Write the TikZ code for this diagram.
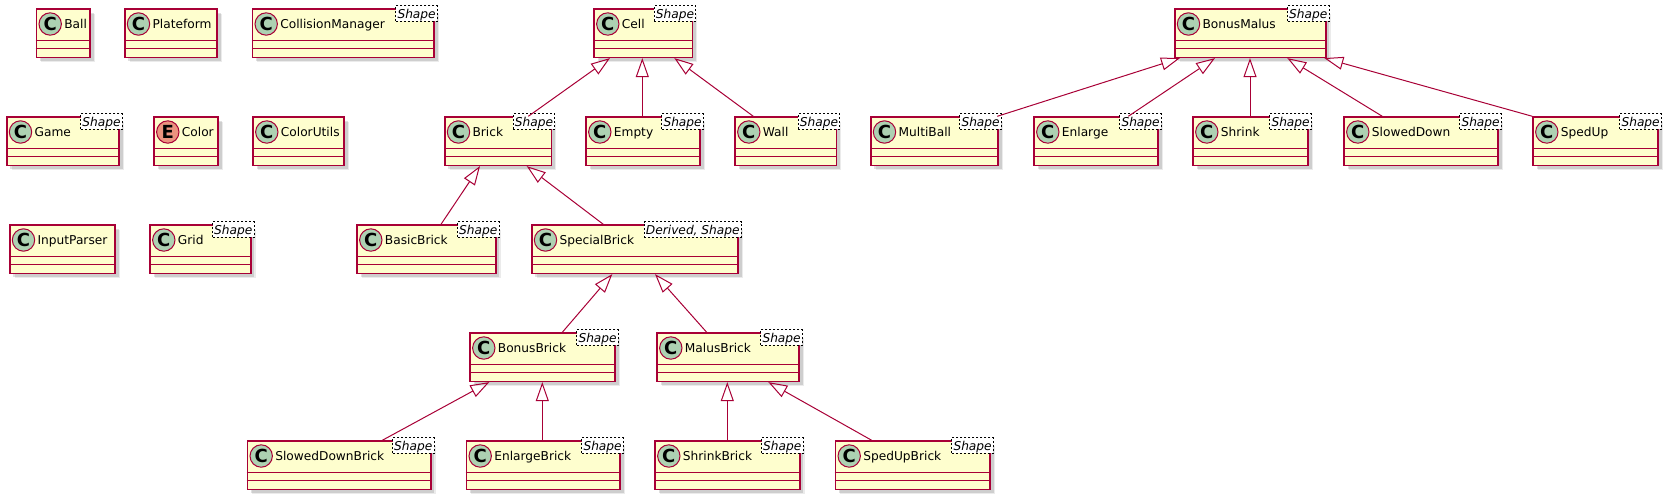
\documentclass[tikz,border=0pt]{standalone}
\usepackage{fontspec}
\setmainfont{DejaVu Sans}
\usetikzlibrary{arrows.meta,shadows}
\definecolor{umlborder}{HTML}{A80036}
\definecolor{umlfill}{HTML}{FEFECE}
\definecolor{spotc}{HTML}{ADD1B2}
\definecolor{spote}{HTML}{EB937F}
\tikzset{
  classbox/.style={rectangle, draw=umlborder, fill=umlfill, line width=1.5pt,
    minimum height=48.3pt, inner sep=0pt,
    drop shadow={shadow xshift=5pt, shadow yshift=-5pt, fill=black, opacity=.08},
    drop shadow={shadow xshift=3.5pt, shadow yshift=-3.5pt, fill=black, opacity=.12}},
  sepline/.style={draw=umlborder, line width=1.5pt},
  spot/.style={circle, draw=umlborder, line width=1pt, minimum size=22.4pt, inner sep=0pt,
    font=\fontsize{18}{18}\selectfont\bfseries},
  clname/.style={anchor=base west, inner sep=0pt, font=\fontsize{12.2}{14}\selectfont},
  stereotag/.style={draw=black, fill=white, line width=0.8pt, dash pattern=on 2pt off 2pt,
    inner xsep=1.7pt, inner ysep=1pt, text height=11.4pt, text depth=2pt,
    font=\fontsize{12.2}{14}\selectfont\itshape, anchor=north east},
  extl/.style={draw=umlborder, line width=1pt, -{Triangle[open, length=19pt, width=13pt]}}
}
\newcommand\umlclass[7]{%
  \pgfmathsetmacro\clw{#4-#2}%
  \node[classbox, minimum width=\clw pt, anchor=north west] (#1) at (#2,#3) {};
  \draw[sepline] ([yshift=-32.3pt]#1.north west) -- ([yshift=-32.3pt]#1.north east);
  \draw[sepline] ([yshift=-40.3pt]#1.north west) -- ([yshift=-40.3pt]#1.north east);
  \node[spot, fill=#7] (#1-spot) at ([xshift=14.5pt,yshift=-15.7pt]#1.north west) {#6};
  \node[clname] (#1-name) at ([xshift=28.4pt,yshift=-20.3pt]#1.north west) {#5};
}
\newcommand\stereo[2]{%
  \node[stereotag] (#1-st) at ([xshift=3pt,yshift=3pt]#1.north east) {#2};
}
\newcommand\ext[4]{%
  \draw[extl] (#2.north -| #4,0) -- (#1.south -| #3,0);
}
\begin{document}
\begin{tikzpicture}[x=1pt,y=-1pt]
\useasboundingbox (0,0) rectangle (1670,498);
% row 1
\umlclass{Ball}{35.7}{8.3}{89.3}{Ball}{C}{spotc}
\umlclass{Plateform}{124}{8.3}{216.3}{Plateform}{C}{spotc}
\umlclass{CollisionManager}{251.7}{8.3}{433.3}{CollisionManager}{C}{spotc}
\stereo{CollisionManager}{Shape}
\umlclass{Cell}{593.3}{8.3}{691.7}{Cell}{C}{spotc}
\stereo{Cell}{Shape}
\umlclass{BonusMalus}{1174}{8.3}{1325}{BonusMalus}{C}{spotc}
\stereo{BonusMalus}{Shape}
% row 2
\umlclass{Game}{6}{116.3}{118.3}{Game}{C}{spotc}
\stereo{Game}{Shape}
\umlclass{Color}{153.3}{116.3}{217.3}{Color}{E}{spote}
\umlclass{ColorUtils}{252.3}{116.3}{343.3}{ColorUtils}{C}{spotc}
\umlclass{Brick}{444}{116.3}{550.7}{Brick}{C}{spotc}
\stereo{Brick}{Shape}
\umlclass{Empty}{585.3}{116.3}{699.3}{Empty}{C}{spotc}
\stereo{Empty}{Shape}
\umlclass{Wall}{734.3}{116.3}{835.7}{Wall}{C}{spotc}
\stereo{Wall}{Shape}
\umlclass{MultiBall}{870}{116.3}{997.3}{MultiBall}{C}{spotc}
\stereo{MultiBall}{Shape}
\umlclass{Enlarge}{1033.3}{116.3}{1157.3}{Enlarge}{C}{spotc}
\stereo{Enlarge}{Shape}
\umlclass{Shrink}{1192.3}{116.3}{1307.3}{Shrink}{C}{spotc}
\stereo{Shrink}{Shape}
\umlclass{SlowedDown}{1343.3}{116.3}{1497.3}{SlowedDown}{C}{spotc}
\stereo{SlowedDown}{Shape}
\umlclass{SpedUp}{1532.3}{116.3}{1657.3}{SpedUp}{C}{spotc}
\stereo{SpedUp}{Shape}
% row 3
\umlclass{InputParser}{9}{224.3}{114.3}{InputParser}{C}{spotc}
\umlclass{Grid}{149.3}{224.3}{250}{Grid}{C}{spotc}
\stereo{Grid}{Shape}
\umlclass{BasicBrick}{356.3}{224.3}{495}{BasicBrick}{C}{spotc}
\stereo{BasicBrick}{Shape}
\umlclass{SpecialBrick}{531}{224.3}{737.3}{SpecialBrick}{C}{spotc}
\stereo{SpecialBrick}{Derived, Shape}
% row 4
\umlclass{BonusBrick}{469.3}{332.3}{614.3}{BonusBrick}{C}{spotc}
\stereo{BonusBrick}{Shape}
\umlclass{MalusBrick}{656.3}{332.3}{798.3}{MalusBrick}{C}{spotc}
\stereo{MalusBrick}{Shape}
% row 5
\umlclass{SlowedDownBrick}{246.7}{440.3}{430}{SlowedDownBrick}{C}{spotc}
\stereo{SlowedDownBrick}{Shape}
\umlclass{EnlargeBrick}{465.7}{440.3}{619.3}{EnlargeBrick}{C}{spotc}
\stereo{EnlargeBrick}{Shape}
\umlclass{ShrinkBrick}{654.3}{440.3}{799}{ShrinkBrick}{C}{spotc}
\stereo{ShrinkBrick}{Shape}
\umlclass{SpedUpBrick}{834.7}{440.3}{989.3}{SpedUpBrick}{C}{spotc}
\stereo{SpedUpBrick}{Shape}
% generalisations
\ext{Cell}{Brick}{610}{528.3}
\ext{Cell}{Empty}{642.3}{642.3}
\ext{Cell}{Wall}{674.3}{753.3}
\ext{Brick}{BasicBrick}{480}{441}
\ext{Brick}{SpecialBrick}{526.7}{603.3}
\ext{SpecialBrick}{BonusBrick}{612.3}{562.3}
\ext{SpecialBrick}{MalusBrick}{655}{706.7}
\ext{BonusBrick}{SlowedDownBrick}{489.3}{382.3}
\ext{BonusBrick}{EnlargeBrick}{542.3}{542.3}
\ext{MalusBrick}{ShrinkBrick}{727.3}{727.3}
\ext{MalusBrick}{SpedUpBrick}{768.3}{871.7}
\ext{BonusMalus}{MultiBall}{1180}{997.3}
\ext{BonusMalus}{Enlarge}{1215}{1128.3}
\ext{BonusMalus}{Shrink}{1250}{1250}
\ext{BonusMalus}{SlowedDown}{1287.3}{1382.3}
\ext{BonusMalus}{SpedUp}{1324.3}{1532.3}
\end{tikzpicture}
\end{document}
